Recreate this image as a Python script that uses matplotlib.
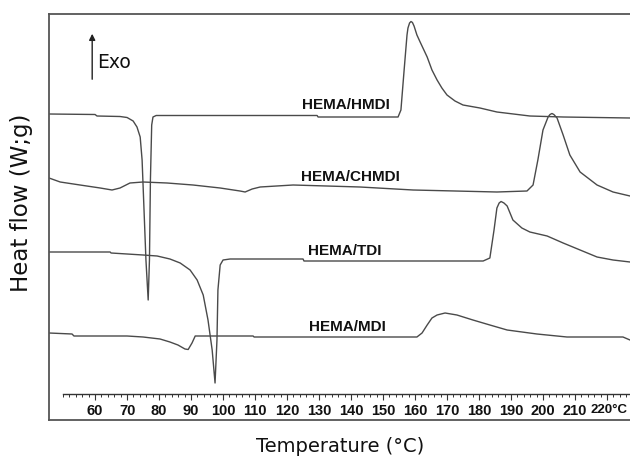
import matplotlib
matplotlib.use("Agg")
import matplotlib.pyplot as plt
from matplotlib.ticker import FixedLocator, FixedFormatter
from matplotlib.transforms import ScaledTranslation

# ---- data (temperature in °C, heat flow in arbitrary offset units) ----
hmdi_T = [45.6, 60, 60.6, 67.8, 70, 71.9, 73.1, 74.1, 74.7, 75.3, 75.9, 76.6, 77.0, 77.3, 77.7, 78.1, 79.1,
          129.4, 129.7, 154.7, 155.6, 156.6, 157.5, 157.8, 158.3, 158.75, 159.2, 159.7, 160.6, 161.6,
          163.8, 165.3, 166.9, 168.4, 170, 172.5, 175, 180.3, 185.6, 195.9, 206.3, 227.2]
hmdi_H = [306, 305.5, 304, 303.5, 302.5, 299, 293, 283, 260, 210, 160, 120, 160, 240, 295, 303, 304.5,
          304.5, 303, 303, 310, 350, 385, 392, 397, 398.5, 397.5, 394, 385, 378,
          363, 350, 340, 332, 325, 319, 315, 312, 308, 304, 303, 302]

chmdi_T = [45.6, 49.1, 55.3, 61.6, 65.3, 67.8, 70.9, 75, 82.5, 90.6, 99.1, 105.3, 106.9, 109.1, 111.6,
           121.9, 142.8, 159.4, 185.6, 195, 196.9, 198.4, 200, 201.6, 202.2, 202.8, 203.4, 204.4,
           206.3, 208.4, 211.6, 216.9, 221.9, 227.2]
chmdi_H = [242, 238, 235, 232, 230, 232, 237, 238, 237, 235, 232, 229, 228, 231, 233,
           235, 233, 230, 228, 229, 235, 260, 290, 303, 305.5, 306.5, 305.5, 302,
           285, 265, 248, 235, 228, 224]

tdi_T = [45.6, 64.7, 65, 75, 79.4, 83.4, 86.6, 89.7, 91.9, 93.8, 95.3, 96.6, 97.5, 98.1, 98.4, 99.1,
         100, 102.2, 125, 125.3, 181.3, 183.4, 184.7, 185.6, 186.3, 186.9, 187.8, 188.8, 190.6, 193.4,
         195.9, 201.3, 206.3, 211.6, 216.9, 221.9, 227.2]
tdi_H = [168, 168, 167, 165, 164, 161, 157, 150, 140, 125, 100, 70, 37, 80, 130, 155,
         160, 161, 161, 159, 159, 162, 190, 212, 217, 218.5, 217, 214, 200, 192,
         188, 184, 177, 170, 163, 160, 158]

mdi_T = [45.6, 52.8, 53.4, 70, 75, 80.3, 83.4, 85.9, 88.1, 89.1, 90.3, 91.3, 109.4, 109.7, 160.6,
         162.2, 163.8, 165.3, 166.9, 169.4, 173.1, 178.1, 183.4, 188.8, 198.1, 207.5, 225, 227.2]
mdi_H = [87, 86, 84, 84, 83, 81, 78, 75, 71, 70.5, 77, 84, 84, 83, 83,
         87, 95, 102, 105, 107, 105, 100, 95, 90, 86, 83, 83, 80]

series_names = ["HEMA/HMDI", "HEMA/CHMDI", "HEMA/TDI", "HEMA/MDI"]
label_T = [138.4, 139.8, 138.1, 138.9]
label_H = [315, 243, 169, 93]

tick_values = list(range(60, 230, 10))
tick_labels = [str(v) for v in tick_values[:-1]] + ["220°C"]
minor_values = list(range(50, 228, 2))

# ---- figure ----
W, H = 630, 462
fig = plt.figure(figsize=(W / 100, H / 100), dpi=100)
ax = fig.add_axes([49 / W, (H - 420) / H, (630 - 49) / W, (420 - 14) / H])
ax.set_xlim(45.6, 227.2)
ax.set_ylim(0, 406)

line_color = "#4a4a4a"
for T, Hf in [(hmdi_T, hmdi_H), (chmdi_T, chmdi_H), (tdi_T, tdi_H), (mdi_T, mdi_H)]:
    ax.plot(T, Hf, color=line_color, lw=1.0)

for name, tx, ty in zip(series_names, label_T, label_H):
    ax.text(tx, ty, name, ha="center", va="center", fontsize=11, fontweight="bold",
            family=["Liberation Sans", "DejaVu Sans"], color="#111111")

# frame
ax.set_xticks([])
ax.set_yticks([])
for s in ["left", "top", "bottom"]:
    ax.spines[s].set_color("#555555")
    ax.spines[s].set_linewidth(1.3)
ax.spines["right"].set_visible(False)

# inner temperature axis
sec = ax.secondary_xaxis((420 - 394) / 406)
sec.xaxis.set_major_locator(FixedLocator(tick_values))
sec.xaxis.set_major_formatter(FixedFormatter(tick_labels))
sec.xaxis.set_minor_locator(FixedLocator(minor_values))
sec.tick_params(which="major", direction="out", length=4, width=0.8, colors="#333333", pad=3,
                labelsize=10.5)
sec.tick_params(which="minor", direction="out", length=2, width=0.7, colors="#333333")
fig.canvas.draw()
labs = sec.get_xticklabels()
for lab in labs:
    lab.set_fontweight("bold")
    lab.set_family(["Liberation Sans", "DejaVu Sans"])
    lab.set_color("#111111")
last = labs[-1]
last.set_horizontalalignment("left")
last.set_fontsize(9.5)
last.set_transform(last.get_transform() + ScaledTranslation(-16 / 100, 0, fig.dpi_scale_trans))
sec.spines["bottom"].set_bounds(50, 227.2)
sec.spines["bottom"].set_color("#333333")
sec.spines["bottom"].set_linewidth(1.0)

# Exo arrow
ax.annotate("", xy=(59.1, 389), xytext=(59.1, 338),
            arrowprops=dict(arrowstyle="-|>", color="#222222", lw=1.0, mutation_scale=9))
ax.text(60.6, 357, "Exo", ha="left", va="center", fontsize=13.5, color="#111111")

# axis titles
fig.text(22 / W, 1 - 203 / H, "Heat flow (W;g)", rotation=90, ha="center", va="center",
         fontsize=16.5, color="#111111")
fig.text(340 / W, 1 - 447 / H, "Temperature (°C)", ha="center", va="center",
         fontsize=14, color="#111111")

fig.savefig("out.png", dpi=100)
